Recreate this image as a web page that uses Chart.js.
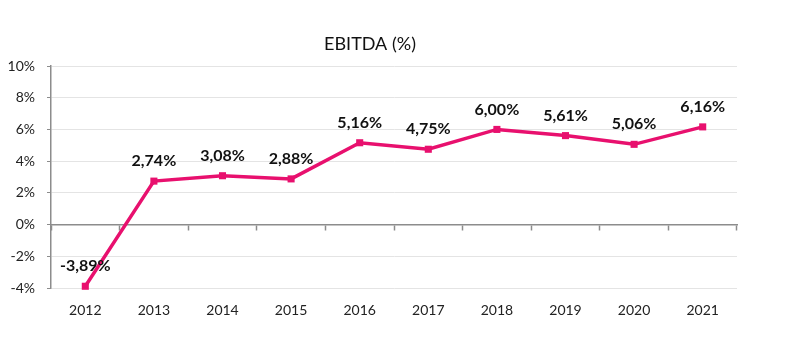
<!DOCTYPE html>
<html>
<head>
<meta charset="utf-8">
<script src="https://cdn.jsdelivr.net/npm/chart.js@4/dist/chart.umd.min.js"></script>
<style>
html,body{margin:0;padding:0;background:#fff;}
#wrap{width:786px;height:355px;position:relative;}
</style>
</head>
<body>
<div id="wrap"><canvas id="c" width="786" height="355"></canvas></div>
<script>
const categories = ['2012','2013','2014','2015','2016','2017','2018','2019','2020','2021'];
const ebitda = [-3.89, 2.74, 3.08, 2.88, 5.16, 4.75, 6.00, 5.61, 5.06, 6.16];
const yTicks = [-4, -2, 0, 2, 4, 6, 8, 10];
const titleText = 'EBITDA (%)';

const lineColor = '#E8106E';
const fontFam = 'Lato, "Open Sans", sans-serif';

const fmt = v => v.toFixed(2).replace('.', ',') + '%';

const labelPlugin = {
  id: 'labels',
  afterDatasetsDraw(chart) {
    const ctx = chart.ctx;
    const meta = chart.getDatasetMeta(0);
    ctx.save();
    ctx.font = 'bold 16px ' + fontFam;
    ctx.fillStyle = '#111';
    ctx.textAlign = 'center';
    ctx.textBaseline = 'middle';
    meta.data.forEach((pt, i) => {
      ctx.fillText(fmt(ebitda[i]), pt.x, pt.y - 20);
    });
    ctx.restore();
  }
};

const titlePlugin = {
  id: 'ctitle',
  afterDraw(chart) {
    const ctx = chart.ctx;
    const a = chart.chartArea;
    ctx.save();
    ctx.font = '18px ' + fontFam;
    ctx.fillStyle = '#111';
    ctx.textAlign = 'center';
    ctx.textBaseline = 'middle';
    ctx.fillText(titleText, (a.left + a.right) / 2 - 24, a.top - 22);
    ctx.restore();
  }
};

new Chart(document.getElementById('c'), {
  type: 'line',
  data: {
    labels: categories,
    datasets: [{
      data: ebitda,
      borderColor: lineColor,
      backgroundColor: lineColor,
      borderWidth: 3.5,
      pointStyle: 'rect',
      pointRadius: 5,
      pointBorderWidth: 0,
      pointBackgroundColor: lineColor,
      tension: 0,
      clip: false
    }]
  },
  options: {
    responsive: false,
    animation: false,
    devicePixelRatio: 1,
    layout: { padding: { top: 66, left: 0, right: 49, bottom: 0 } },
    plugins: { legend: { display: false }, title: { display: false }, tooltip: { enabled: false } },
    scales: {
      x: {
        type: 'category',
        position: 'bottom',
        offset: true,
        border: { display: false },
        grid: { display: false, drawTicks: false },
        ticks: { padding: 14, color: '#222', font: { family: fontFam, size: 14 }, maxRotation: 0 },
        afterFit(s) { s.height = 67; }
      },
      x2: {
        type: 'category',
        labels: categories,
        position: { y: 0 },
        offset: true,
        border: { display: true, color: '#8c8c8c', width: 1.5 },
        grid: { display: true, offset: true, drawOnChartArea: false, drawTicks: true, tickLength: 5, tickColor: '#8c8c8c', tickWidth: 1.5 },
        ticks: { display: false }
      },
      y: {
        min: -4,
        max: 10,
        afterBuildTicks(s) { s.ticks = yTicks.map(v => ({ value: v })); },
        border: { display: true, color: '#8c8c8c', width: 1.5 },
        grid: { color: '#e4e4e4', lineWidth: 1, drawTicks: true, tickLength: 4, tickColor: '#8c8c8c' },
        ticks: { padding: 12, color: '#222', font: { family: fontFam, size: 14 }, callback: v => v + '%' },
        afterFit(s) { s.width = 51; }
      }
    }
  },
  plugins: [labelPlugin, titlePlugin]
});
</script>
</body>
</html>
